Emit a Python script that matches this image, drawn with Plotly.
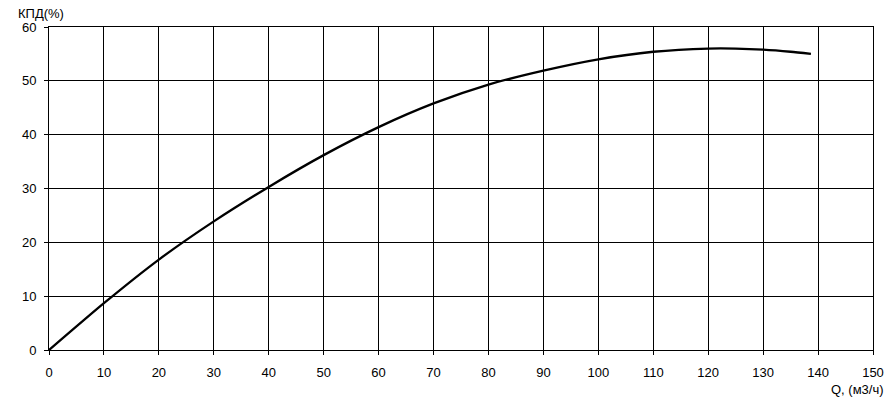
import plotly.graph_objects as go

q_values = [0, 10, 20, 30, 40, 50, 60, 70, 80, 90, 100, 110, 120, 125, 130, 135, 138.7]
eff_values = [0, 8.7, 16.8, 23.9, 30.3, 36.2, 41.4, 45.8, 49.3, 51.9, 54.0, 55.4, 56.0, 56.0, 55.8, 55.4, 55.0]
x_ticks = list(range(0, 151, 10))
y_ticks = list(range(0, 61, 10))
y_title = "КПД(%)"
x_title = "Q, (м3/ч)"

FONT = dict(family="Liberation Sans, Arial", size=13, color="black")

fig = go.Figure()
fig.add_trace(go.Scatter(x=q_values, y=eff_values, mode="lines",
                         line=dict(color="black", width=2.3, shape="spline", smoothing=0.6),
                         hoverinfo="skip", showlegend=False))

axis_common = dict(showgrid=True, gridcolor="black", gridwidth=1, showline=True, linecolor="black",
                   linewidth=1, mirror=True, ticks="outside", ticklen=4, tickcolor="black",
                   zeroline=False, tickfont=FONT)

fig.update_layout(
    width=896, height=406, autosize=False,
    margin=dict(l=49, r=18, t=27, b=56),
    plot_bgcolor="white", paper_bgcolor="white",
    xaxis=dict(range=[0, 150], tickvals=x_ticks, ticklabelstandoff=6, **axis_common),
    yaxis=dict(range=[0, 60], tickvals=y_ticks, ticklabelstandoff=5, **axis_common),
    annotations=[
        dict(text=y_title, xref="paper", yref="paper", x=0, y=1, xanchor="left", yanchor="middle",
             xshift=-33, yshift=14, showarrow=False, font=FONT),
        dict(text=x_title, xref="paper", yref="paper", x=1, y=0, xanchor="right", yanchor="middle",
             xshift=13, yshift=-39, showarrow=False, font=FONT),
    ],
)

fig.write_html("out.html", config={"displayModeBar": False, "responsive": False},
               default_width="896px", default_height="406px",
               post_script="document.body.style.margin='0';document.body.style.overflow='hidden';")
